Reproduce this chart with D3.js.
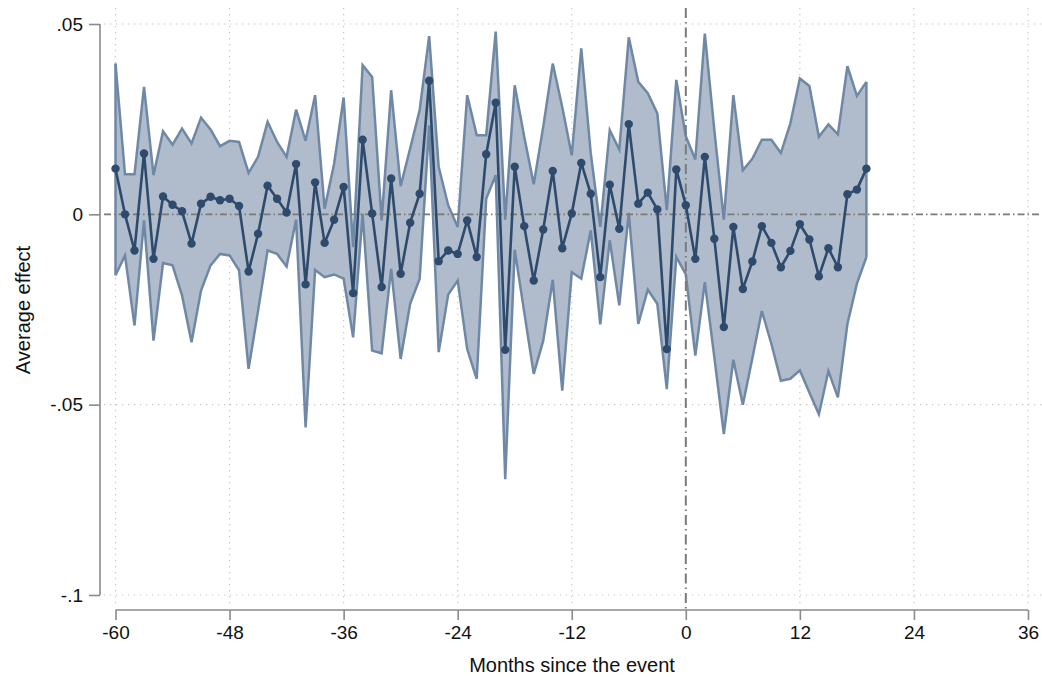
<!DOCTYPE html>
<html>
<head>
<meta charset="utf-8">
<script src="https://cdn.jsdelivr.net/npm/d3@7"></script>
<style>
  html, body { margin: 0; padding: 0; background: #fff; }
  svg { display: block; font-family: "Liberation Sans", Arial, Helvetica, sans-serif; }
</style>
</head>
<body>
<svg id="chart" width="1042" height="677"></svg>
<script>
const months = d3.range(-60, 20);
const estimate = [
  0.0120, 0.0000, -0.0095, 0.0160, -0.0117, 0.0047, 0.0025, 0.0008, -0.0077, 0.0028,
  0.0046, 0.0037, 0.0041, 0.0022, -0.0150, -0.0051, 0.0075, 0.0041, 0.0005, 0.0132,
  -0.0184, 0.0084, -0.0075, -0.0014, 0.0072, -0.0207, 0.0196, 0.0002, -0.0191, 0.0094,
  -0.0156, -0.0022, 0.0054, 0.0351, -0.0123, -0.0095, -0.0104, -0.0016, -0.0112, 0.0158,
  0.0293, -0.0356, 0.0125, -0.0031, -0.0174, -0.0040, 0.0114, -0.0089, 0.0002, 0.0135,
  0.0054, -0.0165, 0.0078, -0.0038, 0.0237, 0.0028, 0.0057, 0.0013, -0.0354, 0.0118,
  0.0024, -0.0117, 0.0151, -0.0064, -0.0296, -0.0033, -0.0196, -0.0124, -0.0031, -0.0075,
  -0.0139, -0.0096, -0.0026, -0.0066, -0.0163, -0.0089, -0.0139, 0.0053, 0.0065, 0.0120
];
const upper = [
  0.0396, 0.0105, 0.0105, 0.0335, 0.0103, 0.0218, 0.0183, 0.0225, 0.0186, 0.0254,
  0.0223, 0.0179, 0.0193, 0.0190, 0.0109, 0.0151, 0.0243, 0.0190, 0.0151, 0.0275,
  0.0193, 0.0313, 0.0015, 0.0133, 0.0307, -0.0086, 0.0392, 0.0361, -0.0016, 0.0326,
  0.0074, 0.0173, 0.0274, 0.0468, 0.0125, 0.0024, -0.0033, 0.0313, 0.0208, 0.0208,
  0.0480, -0.0014, 0.0339, 0.0204, 0.0079, 0.0230, 0.0396, 0.0282, 0.0155, 0.0436,
  0.0160, -0.0033, 0.0221, 0.0170, 0.0465, 0.0348, 0.0318, 0.0265, 0.0011, 0.0353,
  0.0205, 0.0144, 0.0475, 0.0221, -0.0014, 0.0313, 0.0116, 0.0146, 0.0196, 0.0196,
  0.0161, 0.0239, 0.0357, 0.0337, 0.0204, 0.0236, 0.0210, 0.0389, 0.0311, 0.0348
];
const lower = [
  -0.0160, -0.0108, -0.0292, -0.0016, -0.0332, -0.0128, -0.0134, -0.0213, -0.0336, -0.0200,
  -0.0134, -0.0104, -0.0108, -0.0147, -0.0406, -0.0253, -0.0095, -0.0104, -0.0137, -0.0014,
  -0.0560, -0.0146, -0.0165, -0.0158, -0.0169, -0.0323, 0.0002, -0.0358, -0.0365, -0.0143,
  -0.0380, -0.0235, -0.0169, 0.0234, -0.0362, -0.0211, -0.0174, -0.0354, -0.0432, 0.0041,
  0.0103, -0.0696, -0.0093, -0.0257, -0.0419, -0.0332, -0.0172, -0.0463, -0.0152, -0.0169,
  -0.0042, -0.0289, -0.0068, -0.0239, 0.0004, -0.0288, -0.0198, -0.0235, -0.0459, -0.0112,
  -0.0158, -0.0371, -0.0178, -0.0375, -0.0577, -0.0382, -0.0500, -0.0378, -0.0254, -0.0340,
  -0.0437, -0.0432, -0.0410, -0.0468, -0.0525, -0.0412, -0.0481, -0.0288, -0.0182, -0.0112
];
const xTicks = [-60, -48, -36, -24, -12, 0, 12, 24, 36];
const yTicks = [0.05, 0, -0.05, -0.1];
const yTickLabels = [".05", "0", "-.05", "-.1"];
const xTitle = "Months since the event";
const yTitle = "Average effect";

const data = months.map((m, i) => ({ m, est: estimate[i], hi: upper[i], lo: lower[i] }));

const svg = d3.select("#chart");
const x = d3.scaleLinear().domain([-60, 36]).range([115.5, 1028]);
const y = d3.scaleLinear().domain([-0.1, 0.05]).range([595, 24]);

const region = { x0: 104, x1: 1042, y0: 8, y1: 605 };

// gridlines
const grid = svg.append("g");
xTicks.filter(t => t !== 0).forEach(t => {
  grid.append("line")
    .attr("x1", x(t)).attr("x2", x(t))
    .attr("y1", region.y0).attr("y2", region.y1)
    .attr("stroke", "#c4c4c4").attr("stroke-width", 1.2)
    .attr("stroke-dasharray", "1.2,4.8");
});
yTicks.filter(t => t !== 0).forEach(t => {
  grid.append("line")
    .attr("x1", region.x0).attr("x2", region.x1)
    .attr("y1", y(t)).attr("y2", y(t))
    .attr("stroke", "#c4c4c4").attr("stroke-width", 1.2)
    .attr("stroke-dasharray", "1.2,4.8");
});

// confidence band
const area = d3.area()
  .x(d => x(d.m))
  .y0(d => y(d.lo))
  .y1(d => y(d.hi));
svg.append("path")
  .datum(data)
  .attr("d", d => area(d) )
  .attr("fill", "#b0bccb")
  .attr("stroke", "none");
svg.append("path")
  .datum(data)
  .attr("d", d3.line().x(d => x(d.m)).y(d => y(d.hi)))
  .attr("fill", "none").attr("stroke", "#6f88a6").attr("stroke-width", 2.5)
  .attr("stroke-linejoin", "miter");
svg.append("path")
  .datum(data)
  .attr("d", d3.line().x(d => x(d.m)).y(d => y(d.lo)))
  .attr("fill", "none").attr("stroke", "#6f88a6").attr("stroke-width", 2.5)
  .attr("stroke-linejoin", "miter");
// closing edges
[data[0], data[data.length - 1]].forEach(d => {
  svg.append("line")
    .attr("x1", x(d.m)).attr("x2", x(d.m))
    .attr("y1", y(d.lo)).attr("y2", y(d.hi))
    .attr("stroke", "#6f88a6").attr("stroke-width", 2.5);
});

// reference lines
svg.append("line")
  .attr("x1", region.x0).attr("x2", region.x1)
  .attr("y1", y(0)).attr("y2", y(0))
  .attr("stroke", "#7a7a7a").attr("stroke-width", 1.6)
  .attr("stroke-dasharray", "7,3,1.5,3");
svg.append("line")
  .attr("x1", x(0)).attr("x2", x(0))
  .attr("y1", region.y0).attr("y2", 610)
  .attr("stroke", "#7a7a7a").attr("stroke-width", 2)
  .attr("stroke-dasharray", "10,4,1.5,4");

// estimate line + markers
svg.append("path")
  .datum(data)
  .attr("d", d3.line().x(d => x(d.m)).y(d => y(d.est)))
  .attr("fill", "none").attr("stroke", "#2e4a6d").attr("stroke-width", 2.6)
  .attr("stroke-linejoin", "round");
svg.append("g").selectAll("circle")
  .data(data).join("circle")
  .attr("cx", d => x(d.m)).attr("cy", d => y(d.est))
  .attr("r", 4.2).attr("fill", "#2e4a6d");

// axes
const axisColor = "#8a8a8a";
const xAxis = svg.append("g").attr("transform", "translate(0,610)")
  .call(d3.axisBottom(x).tickValues(xTicks).tickSize(10).tickPadding(6).tickFormat(d3.format("d")));
xAxis.select(".domain").attr("stroke", axisColor).attr("stroke-width", 1.6).attr("d", `M${x(-60)},0H${x(36)}`);
xAxis.selectAll(".tick line").attr("stroke", axisColor).attr("stroke-width", 1.6);
xAxis.selectAll(".tick text").attr("font-size", 19).attr("fill", "#111")
  .attr("font-family", "'Liberation Sans', Arial, sans-serif")
  .text(d => d < 0 ? "-" + Math.abs(d) : d);

const yAxis = svg.append("g").attr("transform", "translate(100,0)")
  .call(d3.axisLeft(y).tickValues(yTicks).tickSize(11).tickPadding(6)
    .tickFormat((d, i) => yTickLabels[i]));
yAxis.select(".domain").attr("stroke", axisColor).attr("stroke-width", 1.6).attr("d", `M0,${y(0.05)}V${y(-0.1)}`);
yAxis.selectAll(".tick line").attr("stroke", axisColor).attr("stroke-width", 1.6);
yAxis.selectAll(".tick text").attr("font-size", 19).attr("fill", "#111")
  .attr("font-family", "'Liberation Sans', Arial, sans-serif");

// titles
svg.append("text")
  .attr("x", 572).attr("y", 672)
  .attr("text-anchor", "middle")
  .attr("font-size", 20).attr("fill", "#111")
  .text(xTitle);
svg.append("text")
  .attr("transform", `translate(30,310) rotate(-90)`)
  .attr("text-anchor", "middle")
  .attr("font-size", 20).attr("fill", "#111")
  .text(yTitle);
</script>
</body>
</html>
